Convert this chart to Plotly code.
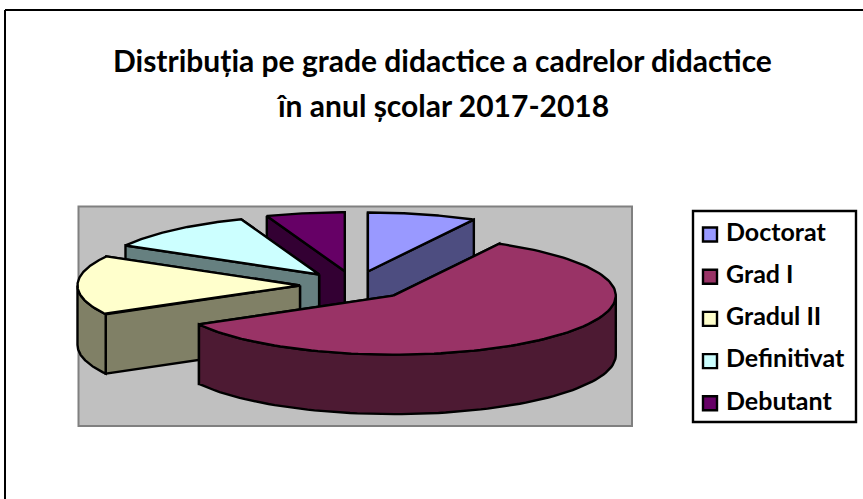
import numpy as np
import plotly.graph_objects as go

categories = ["Doctorat", "Grad I", "Gradul II", "Definitivat", "Debutant"]
values = [7.9, 59.0, 16.3, 11.1, 5.7]
top_colors = ["#9999FF", "#993366", "#FFFFCC", "#CCFFFF", "#660066"]
wall_colors = ["#4D4D80", "#4D1A33", "#808066", "#668080", "#330033"]
title_lines = ["Distribuția pe grade didactice a cadrelor didactice",
               "în anul școlar 2017-2018"]

W, H = 863, 499
CX, CY, RX, RY, DEPTH, EXPLODE = 354.5, 285.5, 222.5, 59.0, 59.5, 0.245
FONT = "Lato, Carlito, sans-serif"
LEGEND_X, LEGEND_Y0, LEGEND_DY, LEGEND_TEXT_X = 710, 234.5, 42.2, 726

fractions = np.array(values) / sum(values) * 2 * np.pi
ends = np.cumsum(fractions)
starts = ends - fractions


def pt(a, ox, oy, dz=0.0):
    return ox + RX * np.sin(a), oy - RY * np.cos(a) + dz


fig = go.Figure()


def poly(xs, ys, color):
    fig.add_trace(go.Scatter(
        x=list(xs) + [xs[0]], y=list(ys) + [ys[0]], mode="lines", fill="toself",
        fillcolor=color, line=dict(color="black", width=2.4),
        hoverinfo="skip", showlegend=False))


order = sorted(range(len(values)), key=lambda i: -np.cos((starts[i] + ends[i]) / 2))
for i in order:
    s, e = starts[i], ends[i]
    m = (s + e) / 2
    ox = CX + EXPLODE * RX * np.sin(m)
    oy = CY - EXPLODE * RY * np.cos(m)
    # radial walls, farther one first
    for a in sorted([s, e], key=lambda a: -np.cos(a)):
        x1, y1 = pt(a, ox, oy)
        poly([ox, x1, x1, ox], [oy, y1, y1 + DEPTH, oy + DEPTH], wall_colors[i])
    # outer wall: only the front half of the rim shows
    lo, hi = max(s, np.pi / 2), min(e, 3 * np.pi / 2)
    if hi > lo:
        a = np.linspace(lo, hi, 80)
        ax, ay = pt(a, ox, oy)
        poly(list(ax) + list(ax[::-1]), list(ay) + list(ay[::-1] + DEPTH), wall_colors[i])
    # top face
    a = np.linspace(s, e, 120)
    ax, ay = pt(a, ox, oy)
    poly([ox] + list(ax), [oy] + list(ay), top_colors[i])

# legend entries
for i, name in enumerate(categories):
    y = LEGEND_Y0 + i * LEGEND_DY
    fig.add_trace(go.Scatter(
        x=[LEGEND_X], y=[y], mode="markers", name=name,
        marker=dict(symbol="square", size=14, color=top_colors[i],
                    line=dict(color="black", width=2.4)),
        hoverinfo="name", showlegend=False))
    fig.add_trace(go.Scatter(
        x=[LEGEND_TEXT_X], y=[y], mode="text", name=name,
        text=[f"<b>{name}</b>"], textposition="middle right",
        textfont=dict(family=FONT, size=25, color="black"),
        hoverinfo="skip", showlegend=False))

shapes = [
    dict(type="rect", xref="x", yref="y", x0=78.5, x1=632, y0=206.5, y1=426,
         fillcolor="#C0C0C0", line=dict(color="#808080", width=2), layer="below"),
    dict(type="rect", xref="x", yref="y", x0=693, x1=856, y0=211, y1=422,
         fillcolor="white", line=dict(color="black", width=2.4), layer="below"),
    dict(type="line", xref="x", yref="y", x0=5, x1=W, y0=10, y1=10,
         line=dict(color="black", width=2)),
    dict(type="line", xref="x", yref="y", x0=5, x1=5, y0=10, y1=H,
         line=dict(color="black", width=2)),
]
annotations = [
    dict(x=442.5, y=59.5 + 45 * k, xref="x", yref="y", text=f"<b>{t}</b>", showarrow=False,
         font=dict(family=FONT, size=30, color="black"), xanchor="center", yanchor="middle")
    for k, t in enumerate(title_lines)
]

fig.update_layout(
    width=W, height=H, margin=dict(l=0, r=0, t=0, b=0), showlegend=False,
    paper_bgcolor="white", plot_bgcolor="white", shapes=shapes, annotations=annotations,
    xaxis=dict(range=[0, W], visible=False, domain=[0, 1]),
    yaxis=dict(range=[H, 0], visible=False, domain=[0, 1]),
)
fig.write_html("out.html", config=dict(displayModeBar=False),
               post_script="document.body.style.margin='0';")
